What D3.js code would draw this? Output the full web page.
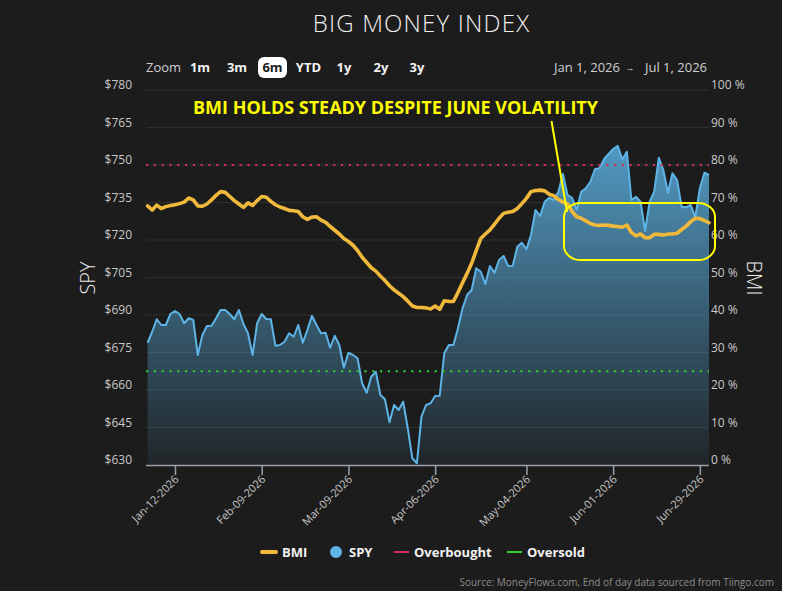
<!DOCTYPE html>
<html>
<head>
<meta charset="utf-8">
<script src="https://cdn.jsdelivr.net/npm/d3@7"></script>
<style>
  body { margin: 0; background: #fff; }
  svg { display: block; font-family: "Open Sans", "Noto Sans", sans-serif; }
</style>
</head>
<body>
<div id="chart"></div>
<script>
//! DATA
const holidays = ['2026-01-19', '2026-02-16', '2026-04-03', '2026-05-25', '2026-06-19'];
const xTicks = ['2026-01-12', '2026-02-09', '2026-03-09', '2026-04-06', '2026-05-04', '2026-06-01', '2026-06-29'];
const spyTicks = [630, 645, 660, 675, 690, 705, 720, 735, 750, 765, 780];
const bmiTicks = [0, 10, 20, 30, 40, 50, 60, 70, 80, 90, 100];
const overbought = 80;
const oversold = 25;

const spy = [
  678.9, 683.3, 688.3, 686.0, 686.0, 690.4, 691.6, 690.4, 686.7, 688.7,
  688.0, 674.0, 682.0, 685.6, 685.7, 688.7, 692.0, 692.0, 690.4, 688.3,
  692.0, 686.4, 682.7, 674.0, 686.7, 690.4, 688.4, 688.3, 677.7, 678.0,
  679.3, 682.7, 681.3, 686.0, 678.9, 684.0, 689.7, 686.0, 682.7, 682.9,
  676.9, 681.7, 678.0, 668.9, 674.9, 674.0, 672.7, 662.7, 658.9, 665.3,
  667.3, 658.0, 656.3, 647.1, 654.0, 652.0, 655.3, 644.7, 632.7, 630.7,
  649.3, 654.0, 654.7, 657.6, 657.7, 674.7, 678.0, 678.0, 684.7, 692.7,
  698.0, 700.0, 708.7, 707.3, 702.4, 709.6, 706.9, 712.0, 713.6, 709.6,
  709.7, 717.3, 718.9, 716.3, 722.0, 732.0, 729.6, 735.3, 736.9, 736.0,
  739.3, 746.4, 738.0, 736.9, 732.0, 739.3, 740.7, 743.3, 748.3, 748.7,
  752.3, 754.4, 756.4, 757.7, 752.3, 755.3, 736.0, 737.3, 735.3, 723.6,
  735.3, 739.3, 752.9, 748.0, 738.9, 746.7, 744.0, 733.3, 733.1, 734.0,
  729.1, 740.7, 746.9, 746.0
];

const bmi = [
  69.1, 68.0, 69.3, 68.4, 68.9, 69.2, 69.4, 69.7, 70.1, 71.2,
  70.7, 69.1, 69.0, 69.6, 70.7, 71.9, 72.9, 72.7, 71.6, 70.5,
  69.6, 68.7, 69.9, 69.2, 70.5, 71.6, 71.4, 70.3, 69.4, 68.8,
  68.4, 67.9, 67.8, 67.6, 66.2, 65.5, 66.1, 66.2, 65.3, 64.7,
  63.6, 62.6, 61.6, 60.4, 59.6, 58.6, 57.2, 55.4, 54.0, 52.6,
  51.7, 50.4, 49.2, 47.8, 46.7, 45.8, 44.9, 43.7, 42.4, 42.0,
  42.0, 41.9, 41.6, 42.4, 41.5, 43.8, 43.6, 43.6, 46.0, 48.6,
  51.1, 53.8, 57.2, 60.4, 61.6, 62.7, 64.2, 65.8, 67.1, 67.4,
  67.6, 68.4, 69.7, 71.1, 72.9, 73.2, 73.3, 73.1, 72.2, 71.8,
  70.8, 70.1, 69.6, 67.6, 66.2, 65.8, 65.1, 64.4, 64.0, 63.9,
  64.0, 63.9, 63.7, 63.6, 63.4, 64.0, 62.0, 61.1, 61.6, 60.6,
  60.6, 61.5, 61.5, 61.3, 61.6, 61.6, 61.8, 62.8, 63.7, 64.9,
  65.8, 65.7, 65.2, 64.6
];

const zoomButtons = ['1m', '3m', '6m', 'YTD', '1y', '2y', '3y'];
const zoomButtonX = [200, 237, 272.5, 308.5, 344, 381, 417];

// trading days (ordinal axis, weekends and holidays skipped)
const parseDay = d3.utcParse('%Y-%m-%d');
const isoDay = d3.utcFormat('%Y-%m-%d');
const dates = d3.utcDay.range(parseDay('2026-01-02'), parseDay('2026-07-02'))
  .filter(d => d.getUTCDay() % 6 !== 0 && !holidays.includes(isoDay(d)))
  .map(isoDay);

//! CONSTS
const width = 786;
const height = 591;
const plotLeft = 146;
const plotRight = 709;
const plotTop = 90;
const plotBottom = 465;

const bmiColor = '#f1b93b';
const spyColor = '#5db4e6';
const obColor = '#d92b5e';
const osColor = '#2fd12f';
const noteColor = '#ffff00';

//! SVG
const svg = d3.select('#chart')
  .append('svg')
  .attr('width', width)
  .attr('height', height);

svg.append('rect')
  .attr('width', 782)
  .attr('height', height)
  .attr('fill', '#1c1c1c');

//! SCALES
const xScale = d3.scalePoint().domain(dates).range([147.6, 709]);
const yLeft = d3.scaleLinear().domain([630, 780]).range([plotBottom, plotTop]);
const yRight = d3.scaleLinear().domain([0, 100]).range([plotBottom, plotTop]);

//! TITLE + RANGE SELECTOR
svg.append('text')
  .attr('x', 421.5).attr('y', 32)
  .attr('text-anchor', 'middle')
  .attr('font-size', 24).attr('font-weight', 300)
  .attr('letter-spacing', 1.2)
  .attr('fill', '#f0f0f0')
  .text('BIG MONEY INDEX');

svg.append('text')
  .attr('x', 146).attr('y', 72)
  .attr('font-size', 13).attr('fill', '#cfcfcf')
  .text('Zoom');

svg.append('rect')
  .attr('x', 258).attr('y', 57).attr('width', 29).attr('height', 21)
  .attr('rx', 6).attr('fill', '#ffffff');

svg.selectAll('.zoom-btn')
  .data(zoomButtons)
  .enter()
  .append('text')
  .attr('class', 'zoom-btn')
  .attr('x', (d, i) => zoomButtonX[i])
  .attr('y', 72)
  .attr('text-anchor', 'middle')
  .attr('font-size', 13).attr('font-weight', 700)
  .attr('fill', d => d === '6m' ? '#1c1c1c' : '#f2f2f2')
  .text(d => d);

svg.append('text').attr('x', 587).attr('y', 72).attr('text-anchor', 'middle')
  .attr('font-size', 13).attr('fill', '#cfcfcf').text('Jan 1, 2026');
svg.append('text').attr('x', 630).attr('y', 71).attr('text-anchor', 'middle')
  .attr('font-size', 9).attr('fill', '#cfcfcf').text('→');
svg.append('text').attr('x', 676).attr('y', 72).attr('text-anchor', 'middle')
  .attr('font-size', 13).attr('fill', '#cfcfcf').text('Jul 1, 2026');

//! GRID
svg.append('g')
  .selectAll('line')
  .data(spyTicks.slice(1))
  .enter()
  .append('line')
  .attr('x1', plotLeft).attr('x2', plotRight)
  .attr('y1', d => yLeft(d)).attr('y2', d => yLeft(d))
  .attr('stroke', '#2e2e2e')
  .attr('stroke-width', 1);

//! GRADIENT
const grad = svg.append('defs')
  .append('linearGradient')
  .attr('id', 'spyFill')
  .attr('gradientUnits', 'userSpaceOnUse')
  .attr('x1', 0).attr('x2', 0)
  .attr('y1', yLeft(d3.max(spy))).attr('y2', yLeft(630));
grad.append('stop').attr('offset', 0).attr('stop-color', spyColor).attr('stop-opacity', 0.82);
grad.append('stop').attr('offset', 1).attr('stop-color', spyColor).attr('stop-opacity', 0.06);

//! SPY AREA
const spyArea = d3.area()
  .x((d, i) => xScale(dates[i]))
  .y0(yLeft(630))
  .y1(d => yLeft(d));

svg.append('path')
  .datum(spy)
  .attr('d', spyArea)
  .attr('fill', 'url(#spyFill)');

const spyLine = d3.line()
  .x((d, i) => xScale(dates[i]))
  .y(d => yLeft(d));

svg.append('path')
  .datum(spy)
  .attr('d', spyLine)
  .attr('fill', 'none')
  .attr('stroke', spyColor)
  .attr('stroke-width', 2)
  .attr('stroke-linejoin', 'round');

//! OVERBOUGHT / OVERSOLD
[[overbought, obColor], [oversold, osColor]].forEach(([v, c]) => {
  svg.append('line')
    .attr('x1', plotLeft).attr('x2', plotRight)
    .attr('y1', yRight(v)).attr('y2', yRight(v))
    .attr('stroke', c)
    .attr('stroke-width', 2.2)
    .attr('stroke-dasharray', '2.2,5.6');
});

//! BMI LINE
const bmiLine = d3.line()
  .x((d, i) => xScale(dates[i]))
  .y(d => yRight(d));

svg.append('path')
  .datum(bmi)
  .attr('d', bmiLine)
  .attr('fill', 'none')
  .attr('stroke', bmiColor)
  .attr('stroke-width', 3.6)
  .attr('stroke-linejoin', 'round')
  .attr('stroke-linecap', 'round');

//! AXES
const leftAxis = svg.append('g')
  .attr('transform', 'translate(138,0)')
  .call(d3.axisLeft(yLeft).tickValues(spyTicks).tickFormat(d => '$' + d).tickSize(0).tickPadding(6));
leftAxis.select('.domain').remove();
leftAxis.selectAll('text')
  .attr('y', -5)
  .attr('font-size', 12)
  .attr('font-family', '"Open Sans", sans-serif')
  .attr('fill', '#c8c8c8');

const rightAxis = svg.append('g')
  .attr('transform', 'translate(705,0)')
  .call(d3.axisRight(yRight).tickValues(bmiTicks).tickFormat(d => d + ' %').tickSize(0).tickPadding(6));
rightAxis.select('.domain').remove();
rightAxis.selectAll('text')
  .attr('y', -5)
  .attr('font-size', 12)
  .attr('font-family', '"Open Sans", sans-serif')
  .attr('fill', '#c8c8c8');

const tickFmt = d3.utcFormat('%b-%d-%Y');
const xAxis = svg.append('g')
  .attr('transform', `translate(0,${plotBottom})`)
  .call(d3.axisBottom(xScale).tickValues(xTicks).tickSize(10).tickSizeOuter(0)
    .tickFormat(d => tickFmt(parseDay(d))));
xAxis.select('.domain')
  .attr('d', `M${plotLeft},0.5H${plotRight}`)
  .attr('stroke', '#9aa0a8')
  .attr('stroke-width', 1.5);
xAxis.selectAll('.tick line').attr('stroke', '#9aa0a8').attr('stroke-width', 1.5);
xAxis.selectAll('.tick text')
  .attr('y', 0).attr('dy', 0)
  .attr('transform', 'translate(4,15) rotate(-45)')
  .attr('text-anchor', 'end')
  .attr('font-size', 11)
  .attr('font-family', '"Open Sans", sans-serif')
  .attr('fill', '#c8c8c8');

svg.append('text')
  .attr('transform', 'translate(95,278) rotate(-90)')
  .attr('text-anchor', 'middle')
  .attr('font-size', 20).attr('font-weight', 300)
  .attr('fill', '#ececec')
  .text('SPY');

svg.append('text')
  .attr('transform', 'translate(747,278) rotate(90)')
  .attr('text-anchor', 'middle')
  .attr('font-size', 20).attr('font-weight', 300)
  .attr('fill', '#ececec')
  .text('BMI');

//! ANNOTATION
svg.append('text')
  .attr('x', 193).attr('y', 114)
  .attr('font-size', 17).attr('font-weight', 700)
  .attr('textLength', 405).attr('lengthAdjust', 'spacingAndGlyphs')
  .attr('fill', noteColor)
  .text('BMI HOLDS STEADY DESPITE JUNE VOLATILITY');

svg.append('line')
  .attr('x1', 551.5).attr('y1', 121)
  .attr('x2', 567).attr('y2', 212)
  .attr('stroke', noteColor).attr('stroke-width', 2);

svg.append('rect')
  .attr('x', 564).attr('y', 203).attr('width', 151).attr('height', 57)
  .attr('rx', 17).attr('ry', 14)
  .attr('fill', 'none')
  .attr('stroke', noteColor).attr('stroke-width', 2);

//! LEGEND
const legend = svg.append('g').attr('font-size', 13).attr('font-weight', 700).attr('fill', '#f2f2f2');
legend.append('line').attr('x1', 262).attr('x2', 276).attr('y1', 552).attr('y2', 552)
  .attr('stroke', bmiColor).attr('stroke-width', 4).attr('stroke-linecap', 'round');
legend.append('text').attr('x', 282).attr('y', 557).text('BMI');
legend.append('circle').attr('cx', 336).attr('cy', 552).attr('r', 6).attr('fill', spyColor);
legend.append('text').attr('x', 349).attr('y', 557).text('SPY');
legend.append('line').attr('x1', 394).attr('x2', 409).attr('y1', 552).attr('y2', 552)
  .attr('stroke', obColor).attr('stroke-width', 2);
legend.append('text').attr('x', 414).attr('y', 557).text('Overbought');
legend.append('line').attr('x1', 507).attr('x2', 522).attr('y1', 552).attr('y2', 552)
  .attr('stroke', osColor).attr('stroke-width', 2);
legend.append('text').attr('x', 527).attr('y', 557).text('Oversold');

svg.append('text')
  .attr('x', 774).attr('y', 586)
  .attr('text-anchor', 'end')
  .attr('font-size', 10)
  .attr('fill', '#8c8c8c')
  .text('Source: MoneyFlows.com, End of day data sourced from Tiingo.com');
</script>
</body>
</html>
